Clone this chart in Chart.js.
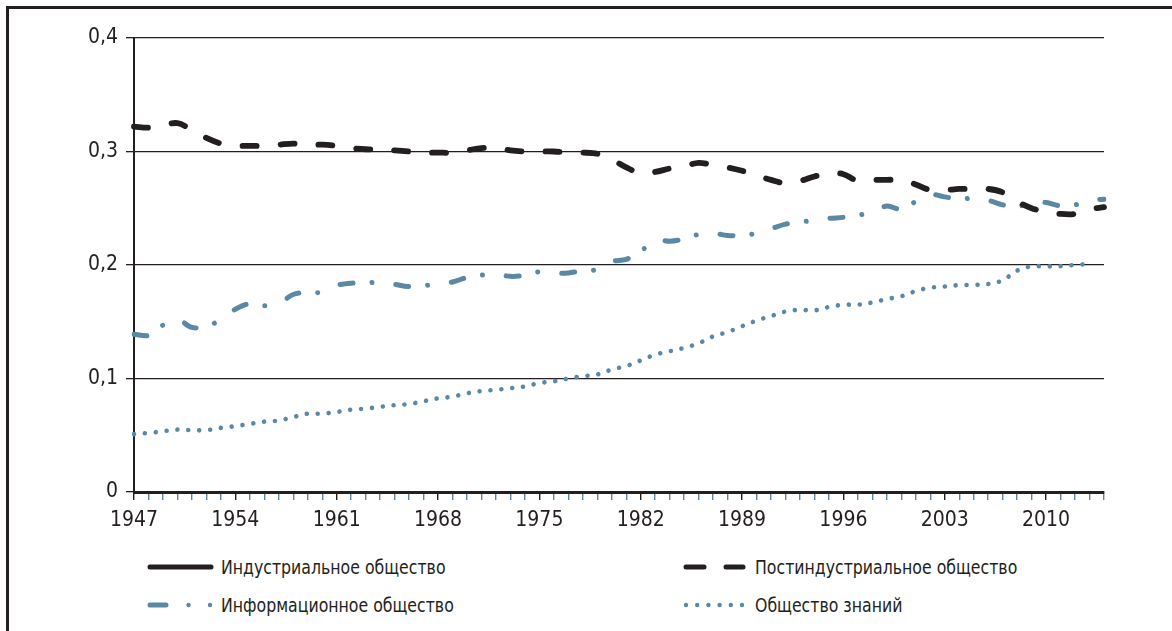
<!DOCTYPE html>
<html lang="ru">
<head>
<meta charset="utf-8">
<script src="https://cdn.jsdelivr.net/npm/chart.js@4/dist/chart.umd.min.js"></script>
<style>
  html, body { margin: 0; padding: 0; background: #fff; }
  body { width: 1172px; height: 631px; position: relative; overflow: hidden;
         font-family: 'DejaVu Sans Condensed', 'Liberation Sans Narrow', sans-serif; color: #231f20; }
  #frame { position: absolute; left: 6px; top: 6px; width: 1170px; height: 640px;
           border-top: 3px solid #231f20; border-left: 3px solid #231f20; }
  #wrap { position: absolute; left: 0; top: 0; width: 1172px; height: 540px; }
  .leg { position: absolute; display: flex; align-items: center; font-size: 20px; line-height: 24px; white-space: nowrap; }
  .leg svg { display: block; margin-right: 6px; }
  .leg span { display: inline-block; transform: scaleX(0.875); transform-origin: left center; }
</style>
</head>
<body>
<div id="frame"></div>
<div id="wrap"><canvas id="c" width="1172" height="540"></canvas></div>
<div class="leg" style="left:145px; top:555px;">
  <svg width="70" height="12"><line x1="5" y1="6" x2="66" y2="6" stroke="#231f20" stroke-width="5" stroke-linecap="round"/></svg>
  <span>Индустриальное общество</span>
</div>
<div class="leg" style="left:145px; top:593px;">
  <svg width="70" height="12"><line x1="5" y1="6" x2="21" y2="6" stroke="#5a88a5" stroke-width="5" stroke-linecap="round"/><circle cx="43.5" cy="6" r="2.2" fill="#5a88a5"/><circle cx="65" cy="6" r="2.2" fill="#5a88a5"/></svg>
  <span>Информационное общество</span>
</div>
<div class="leg" style="left:681px; top:555px;">
  <svg width="68" height="12"><line x1="5" y1="6" x2="23" y2="6" stroke="#231f20" stroke-width="5" stroke-linecap="round"/><line x1="45" y1="6" x2="62" y2="6" stroke="#231f20" stroke-width="5" stroke-linecap="round"/></svg>
  <span>Постиндустриальное общество</span>
</div>
<div class="leg" style="left:681px; top:593px;">
  <svg width="68" height="12"><g fill="#5a88a5"><circle cx="5" cy="6" r="2.2"/><circle cx="16.2" cy="6" r="2.2"/><circle cx="27.4" cy="6" r="2.2"/><circle cx="38.6" cy="6" r="2.2"/><circle cx="49.8" cy="6" r="2.2"/><circle cx="61" cy="6" r="2.2"/></g></svg>
  <span>Общество знаний</span>
</div>
<script>
const years = ['1947','1948','1949','1950','1951','1952','1953','1954','1955','1956',
  '1957','1958','1959','1960','1961','1962','1963','1964','1965','1966',
  '1967','1968','1969','1970','1971','1972','1973','1974','1975','1976',
  '1977','1978','1979','1980','1981','1982','1983','1984','1985','1986',
  '1987','1988','1989','1990','1991','1992','1993','1994','1995','1996',
  '1997','1998','1999','2000','2001','2002','2003','2004','2005','2006',
  '2007','2008','2009','2010','2011','2012','2013','2014'];

const tickLabels = ['1947','1954','1961','1968','1975','1982','1989','1996','2003','2010'];
const yTicks = ['0','0,1','0,2','0,3','0,4'];

const industrial = [];

const postindustrial = [0.322,0.321,0.323,0.325,0.319,0.312,0.307,0.305,0.305,0.305,
  0.306,0.307,0.306,0.306,0.305,0.303,0.302,0.302,0.301,0.300,
  0.299,0.299,0.299,0.301,0.303,0.303,0.301,0.300,0.300,0.300,
  0.299,0.299,0.298,0.293,0.286,0.281,0.282,0.285,0.287,0.290,
  0.288,0.286,0.283,0.279,0.275,0.272,0.274,0.278,0.281,0.280,
  0.274,0.275,0.275,0.275,0.271,0.266,0.266,0.267,0.267,0.267,
  0.264,0.256,0.250,0.247,0.245,0.245,0.249,0.251];

const information = [0.139,0.138,0.147,0.152,0.145,0.146,0.152,0.161,0.166,0.164,
  0.166,0.174,0.176,0.176,0.182,0.184,0.184,0.185,0.183,0.181,
  0.182,0.183,0.185,0.189,0.191,0.192,0.190,0.191,0.194,0.193,
  0.193,0.195,0.196,0.203,0.205,0.212,0.222,0.221,0.223,0.227,
  0.228,0.226,0.226,0.228,0.232,0.236,0.238,0.239,0.241,0.242,
  0.244,0.246,0.252,0.249,0.256,0.262,0.260,0.258,0.259,0.257,
  0.253,0.251,0.256,0.255,0.252,0.253,0.257,0.258];

const knowledge = [0.051,0.052,0.0535,0.055,0.0545,0.0545,0.0565,0.058,0.060,0.062,
  0.063,0.066,0.069,0.069,0.0705,0.0725,0.0735,0.075,0.0765,0.0775,
  0.080,0.0825,0.084,0.087,0.089,0.090,0.0915,0.093,0.096,0.0975,
  0.100,0.102,0.1035,0.108,0.111,0.116,0.121,0.124,0.127,0.131,
  0.137,0.141,0.146,0.151,0.155,0.159,0.1605,0.160,0.163,0.165,
  0.165,0.167,0.170,0.1725,0.177,0.180,0.181,0.1823,0.1825,0.1832,
  0.1865,0.195,0.1988,0.1988,0.199,0.200,0.201,null];

const DARK = '#231f20';
const BLUE = '#5a88a5';
const FONT = "'DejaVu Sans Condensed', 'Liberation Sans Narrow', sans-serif";

Chart.defaults.font.family = FONT;
Chart.defaults.font.size = 21;
Chart.defaults.color = DARK;

new Chart(document.getElementById('c'), {
  type: 'line',
  data: {
    labels: years,
    datasets: [
      { label: 'Индустриальное общество', data: industrial, borderColor: DARK, borderWidth: 5, pointRadius: 0 },
      { label: 'Постиндустриальное общество', data: postindustrial, borderColor: DARK, borderWidth: 5.8,
        borderDash: [14, 24], borderCapStyle: 'round', pointRadius: 0, tension: 0.35 },
      { label: 'Информационное общество', data: information, borderColor: BLUE, borderWidth: 5,
        borderDash: [13, 19, 0.01, 24], borderCapStyle: 'round', pointRadius: 0, tension: 0.35 },
      { label: 'Общество знаний', data: knowledge, borderColor: BLUE, borderWidth: 4.6,
        borderDash: [0.01, 10.9], borderCapStyle: 'round', pointRadius: 0, tension: 0.35 }
    ]
  },
  options: {
    responsive: false,
    animation: false,
    events: [],
    layout: { padding: { left: 0, right: 68, top: 38, bottom: 0 } },
    plugins: { legend: { display: false }, tooltip: { enabled: false } },
    scales: {
      x: {
        type: 'category',
        offset: false,
        afterFit: s => { s.height = 48; },
        grid: {
          drawOnChartArea: false, drawTicks: true, tickLength: 8, lineWidth: 1.4,
          color: ctx => (tickLabels.includes(years[ctx.index]) ? DARK : BLUE)
        },
        border: { display: true, color: DARK, width: 3 },
        ticks: {
          autoSkip: false, maxRotation: 0, padding: 8,
          callback: (v, i) => (tickLabels.includes(years[i]) ? years[i] : '')
        }
      },
      y: {
        min: 0, max: 0.4,
        afterFit: s => { s.width = 134; },
        afterBuildTicks: s => { s.ticks = yTicks.map((t, i) => ({ value: i * 0.1 })); },
        grid: { color: DARK, lineWidth: 1.3, drawTicks: true, tickLength: 8 },
        border: { display: true, color: DARK, width: 2 },
        ticks: {
          padding: 8,
          callback: (v, i) => yTicks[i]
        }
      }
    }
  }
});
</script>
</body>
</html>
